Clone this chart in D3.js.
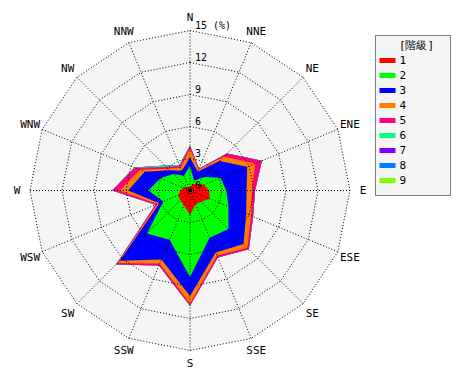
<!DOCTYPE html>
<html>
<head>
<meta charset="utf-8">
<script src="https://cdn.jsdelivr.net/npm/d3@7"></script>
<style>
  body { margin: 0; background: #fff; }
  text { font-family: "DejaVu Sans Mono", monospace; fill: #000; }
</style>
</head>
<body>
<div class="rose"></div>
<script>
var directions = ['N','NNE','NE','ENE','E','ESE','SE','SSE','S','SSW','SW','WSW','W','WNW','NW','NNW'];
var classNames = ['1','2','3','4','5','6','7','8','9'];
var classColors = ['#ff0000','#00ff00','#0000ff','#ff8000','#ff0080','#00ff80','#8000ff','#0080ff','#80ff00'];
var ticks = [3, 6, 9, 12, 15];

// frequency (%) of each class by direction, N clockwise
var class1 = [0.3, 0.6, 0.9, 1.4, 1.8, 2.0, 1.5, 1.4, 2.3, 1.5, 1.3, 1.2, 0.9, 0.7, 0.5, 0.3];
var class2 = [2.0, 0.4, 0.9, 1.7, 1.6, 1.9, 3.6, 3.4, 5.8, 3.5, 4.4, 1.5, 3.0, 2.3, 1.7, 1.2];
var class3 = [0.8, 0.9, 2.1, 2.7, 1.9, 1.8, 2.0, 1.5, 1.8, 2.0, 3.6, 0.4, 1.9, 1.6, 0.5, 0.5];
var class4 = [0.8, 0.2, 0.6, 0.8, 0.5, 0.5, 0.5, 0.3, 0.7, 0.4, 0.3, 0.2, 0.8, 0.5, 0.2, 0.3];
var class5 = [0.3, 0.1, 0.4, 0.7, 0.3, 0.2, 0.2, 0.2, 0.2, 0.2, 0.2, 0.2, 0.7, 0.5, 0.2, 0.2];
var class6 = [0, 0, 0, 0, 0, 0, 0, 0, 0, 0, 0, 0, 0, 0.05, 0.2, 0.1];
var class7 = [0, 0, 0, 0, 0, 0, 0, 0, 0, 0, 0, 0, 0, 0, 0, 0];
var class8 = [0, 0, 0, 0, 0, 0, 0, 0, 0, 0, 0, 0, 0, 0, 0, 0];
var class9 = [0, 0, 0, 0, 0, 0, 0, 0, 0, 0, 0, 0, 0, 0, 0, 0];
var classes = [class1, class2, class3, class4, class5, class6, class7, class8, class9];

var cx = 190, cy = 190.5;

var svg = d3.select('.rose').append('svg')
            .attr('width', 470)
            .attr('height', 380);

var r = d3.scaleLinear().domain([0, 15]).range([0, 160]);
var angle = d3.scalePoint().domain(directions.concat(['_'])).range([0, 2 * Math.PI]);

var g = svg.append('g').attr('transform', 'translate(' + cx + ',' + cy + ')');

var ring = d3.lineRadial()
             .angle(function(d) { return angle(d); })
             .curve(d3.curveLinearClosed);

// background
g.append('path')
 .attr('d', ring.radius(r(15))(directions))
 .style('fill', '#f5f5f5');

// cumulative totals, outermost first
var cumulative = [];
var running = directions.map(function() { return 0; });
classes.forEach(function(vals) {
  running = running.map(function(v, i) { return v + vals[i]; });
  cumulative.push(running.slice());
});

var area = d3.lineRadial()
             .angle(function(d, i) { return angle(directions[i]); })
             .radius(function(d) { return r(d); })
             .curve(d3.curveLinearClosed);

g.selectAll('path.layer')
 .data(cumulative.map(function(c, i) { return {vals: c, color: classColors[i]}; }).reverse())
 .enter()
 .append('path')
 .attr('class', 'layer')
 .attr('d', function(d) { return area(d.vals); })
 .style('fill', function(d) { return d.color; })
 .style('stroke', 'none');

// grid
ticks.forEach(function(t) {
  g.append('path')
   .attr('d', ring.radius(r(t))(directions))
   .style('fill', 'none')
   .style('stroke', '#000')
   .style('stroke-dasharray', '1,2');
});

g.selectAll('line.spoke')
 .data(directions)
 .enter()
 .append('line')
 .attr('class', 'spoke')
 .attr('x1', 0).attr('y1', 0)
 .attr('x2', function(d) { return r(15) * Math.sin(angle(d)); })
 .attr('y2', function(d) { return -r(15) * Math.cos(angle(d)); })
 .style('stroke', '#000')
 .style('stroke-dasharray', '1,2');

g.append('circle').attr('r', 2).style('fill', '#000');

// tick labels
g.selectAll('text.tick')
 .data([0].concat(ticks))
 .enter()
 .append('text')
 .attr('class', 'tick')
 .attr('x', 5)
 .attr('y', function(d) { return -r(d) - 2; })
 .style('font-size', '10px')
 .text(function(d) { return d === 15 ? '15 (%)' : d; });

// direction labels
g.selectAll('text.dir')
 .data(directions)
 .enter()
 .append('text')
 .attr('class', 'dir')
 .attr('x', function(d) { return 173 * Math.sin(angle(d)); })
 .attr('y', function(d) { return -173 * Math.cos(angle(d)); })
 .attr('text-anchor', 'middle')
 .attr('dy', '0.35em')
 .style('font-size', '11px')
 .text(function(d) { return d; });

// legend
var legend = svg.append('g').attr('transform', 'translate(375.5,35.5)');
legend.append('rect')
      .attr('width', 75).attr('height', 160)
      .style('fill', '#f5f5f5')
      .style('stroke', '#000')
      .style('stroke-dasharray', '1,1');
legend.append('text')
      .attr('x', 41).attr('y', 13)
      .attr('text-anchor', 'middle')
      .style('font-size', '11px')
      .text('[階級]');

var items = legend.selectAll('g.item')
                  .data(classNames)
                  .enter()
                  .append('g')
                  .attr('class', 'item')
                  .attr('transform', function(d, i) { return 'translate(0,' + (25 + i * 15) + ')'; });
items.append('rect')
     .attr('x', 4).attr('y', -2.5)
     .attr('width', 16).attr('height', 5)
     .style('fill', function(d, i) { return classColors[i]; });
items.append('text')
     .attr('x', 24).attr('dy', '0.35em')
     .style('font-size', '11px')
     .text(function(d) { return d; });
</script>
</body>
</html>
